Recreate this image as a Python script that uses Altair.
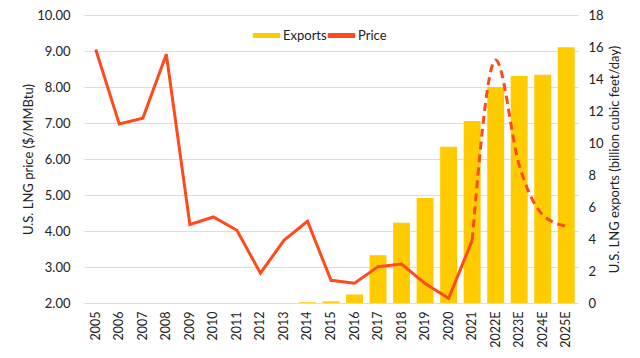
import altair as alt
import pandas as pd

years = ["2005", "2006", "2007", "2008", "2009", "2010", "2011", "2012", "2013", "2014",
         "2015", "2016", "2017", "2018", "2019", "2020", "2021", "2022E", "2023E", "2024E", "2025E"]
exports = [0, 0, 0, 0, 0, 0, 0, 0, 0, 0.05, 0.1, 0.53, 2.99, 5.02, 6.57, 9.77, 11.38,
           13.5, 14.19, 14.27, 15.99]
price = [9.04, 6.97, 7.13, 8.91, 4.18, 4.39, 4.02, 2.83, 3.74, 4.27, 2.63, 2.55, 3.01,
         3.08, 2.54, 2.13, 3.74, 8.75, 5.83, 4.45, 4.13]

FONT = "Lato"
TXT = "#222222"
YEL = "#FFCC00"
RED = "#FF4A1C"

bars_df = pd.DataFrame({"year": years, "exports": exports, "series": "Exports"})
solid_df = pd.DataFrame({"year": years[:17], "price": price[:17], "series": "Price"})
dash_df = pd.DataFrame({"year": years[16:], "price": price[16:], "series": "Price"})

xenc = alt.X("year:N", sort=years, title=None,
             scale=alt.Scale(paddingInner=0.28, paddingOuter=0.14),
             axis=alt.Axis(labelAngle=270, labelFontSize=12.5, labelColor=TXT, ticks=False,
                           domain=False, grid=False, labelPadding=8, labelFont=FONT))

color = alt.Color("series:N",
                  scale=alt.Scale(domain=["Exports", "Price"], range=[YEL, RED]),
                  legend=alt.Legend(title=None, orient="none", direction="horizontal",
                                    legendX=166, legendY=4, symbolType="stroke",
                                    symbolStrokeWidth=5, symbolSize=750,
                                    labelFontSize=13, labelColor=TXT, labelFont=FONT,
                                    columnPadding=-10, gridAlign="none", symbolOffset=0,
                                    labelOffset=0))

bars = alt.Chart(bars_df).mark_bar().encode(
    x=xenc,
    y=alt.Y("exports:Q", title="U.S. LNG exports (billion cubic feet/day)",
            scale=alt.Scale(domain=[0, 18], nice=False),
            axis=alt.Axis(orient="right", values=list(range(0, 19, 2)), grid=False,
                          ticks=False, domain=False, labelFontSize=13, labelColor=TXT,
                          labelFont=FONT, titleFont=FONT, titleFontSize=13,
                          titleFontWeight="normal", titleColor=TXT, titleAngle=270,
                          titleX=36, titleY=144, titleAlign="center",
                          titleBaseline="middle", labelPadding=10)),
    color=color,
)

def yprice():
    return alt.Y("price:Q", title="U.S. LNG price ($/MMBtu)",
                 scale=alt.Scale(domain=[2, 10], nice=False),
                 axis=alt.Axis(orient="left", values=list(range(2, 11)), format=".2f",
                               grid=True, gridColor="#dddddd", gridWidth=1.2, ticks=False,
                               domain=False, labelFontSize=13, labelColor=TXT, labelFont=FONT,
                               titleFont=FONT, titleFontSize=13, titleFontWeight="normal",
                               titleColor=TXT, labelPadding=14, titlePadding=1,
                               labelOverlap=False))

solid = alt.Chart(solid_df).mark_line(strokeWidth=3, strokeJoin="miter").encode(
    x=alt.X("year:N", sort=years), y=yprice(), color=color)
dashed = alt.Chart(dash_df).mark_line(strokeWidth=3, strokeDash=[8, 5],
                                      interpolate="monotone").encode(
    x=alt.X("year:N", sort=years), y=yprice(), color=color)

lines = alt.layer(solid, dashed)

chart = alt.layer(bars, lines).resolve_scale(y="independent").properties(
    width=494, height=288,
    autosize=alt.AutoSizeParams(type="none"),
    padding={"left": 76, "top": 7, "right": 54, "bottom": 45},
    background="white",
).configure_view(stroke=None)

chart.save("out.html", embed_options={"renderer": "svg", "actions": False})
